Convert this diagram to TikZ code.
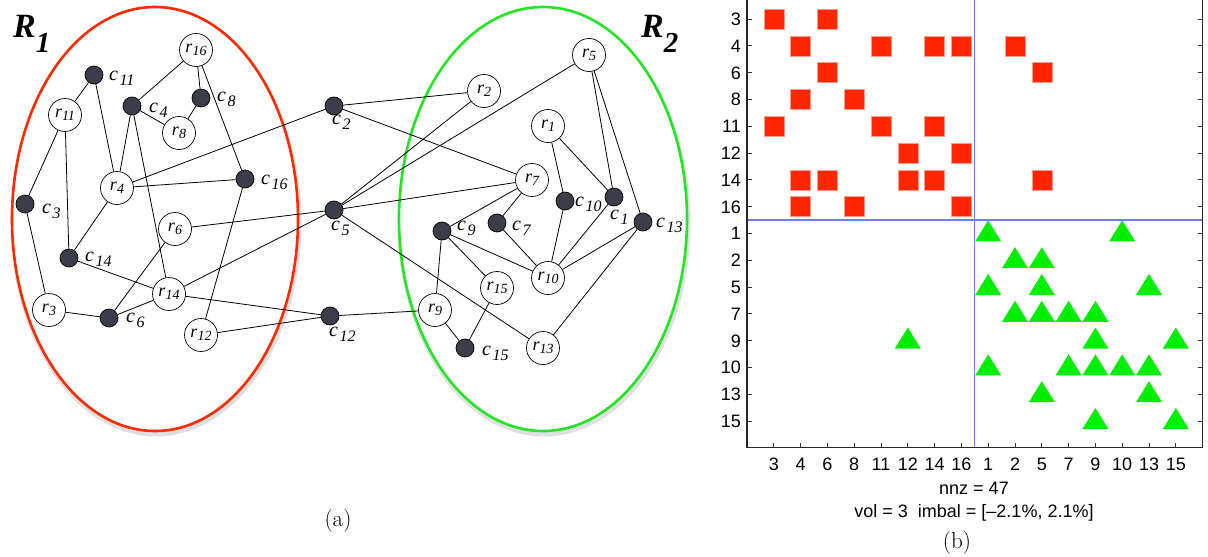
\documentclass[tikz,border=0pt]{standalone}
\usepackage{fontspec}
\newfontfamily\tm{Liberation Serif}
\newfontfamily\hv{Liberation Sans}
\definecolor{cgray}{HTML}{3B3D4A}
\definecolor{ellred}{HTML}{FF2A00}
\definecolor{ellgreen}{HTML}{22E622}
\definecolor{sqred}{HTML}{FF2600}
\definecolor{sqpink}{HTML}{FF9A8A}
\definecolor{trigreen}{HTML}{00EE00}
\definecolor{sepblue}{HTML}{6C7FF0}
\newcommand{\rl}[1]{{\tm\fontsize{18}{18}\selectfont\itshape r\raisebox{-3.5pt}{\fontsize{14}{14}\selectfont #1}}}
\newcommand{\cl}[1]{{\tm\fontsize{20}{20}\selectfont\itshape c\kern1.5pt\raisebox{-5pt}{\fontsize{16}{16}\selectfont #1}}}
\newcommand{\Rl}[1]{{\tm\bfseries\itshape\fontsize{34}{34}\selectfont R\raisebox{-15pt}{\fontsize{29}{29}\selectfont #1}}}
\pgfdeclarelayer{ell}
\pgfdeclarelayer{edges}
\pgfsetlayers{ell,edges,main}
\tikzset{
  rnode/.style={circle,draw=black,fill=white,line width=0.7pt,minimum size=33pt,inner sep=0pt},
  cnode/.style={circle,draw=black,fill=cgray,line width=0.7pt,minimum size=18pt,inner sep=0pt},
  clab/.style={anchor=base west,inner sep=0pt},
  edge/.style={line width=0.8pt,black},
  ylab/.style={anchor=base east,inner sep=0pt,font=\hv\fontsize{18}{18}\selectfont},
  xlab/.style={anchor=base,inner sep=0pt,font=\hv\fontsize{18}{18}\selectfont},
  tick/.style={line width=0.8pt,black!80},
}
\begin{document}
\begin{tikzpicture}[x=1pt,y=-1pt]
\useasboundingbox (0,0) rectangle (1208,557);
\clip (0,0) rectangle (1208,557);
% ---------------- ellipses ----------------
\begin{pgfonlayer}{ell}
\draw[black!40,opacity=0.3,line width=5pt] (156,223) ellipse [x radius=143,y radius=211];
\draw[black!40,opacity=0.3,line width=5pt] (544,223) ellipse [x radius=144,y radius=211];
\draw[ellred,line width=2.6pt,fill=white] (155,219) ellipse [x radius=143,y radius=212];
\draw[ellgreen,line width=2.6pt,fill=white] (543,219) ellipse [x radius=144,y radius=212];
\end{pgfonlayer}
\node[anchor=base west,inner sep=0pt] (R1) at (13,37) {\Rl{1}};
\node[anchor=base west,inner sep=0pt] (R2) at (641,37) {\Rl{2}};
% ---------------- nodes ----------------
\node[rnode] (r16) at (196,50) {\rl{16}};
\node[cnode] (c11) at (94,75) {};
\node[rnode] (r11) at (65,115) {\rl{11}};
\node[cnode] (c4) at (132,106) {};
\node[cnode] (c8) at (201,98) {};
\node[rnode] (r8) at (179,133) {\rl{8}};
\node[rnode] (r4) at (117,188) {\rl{4}};
\node[cnode] (c16) at (245,179) {};
\node[cnode] (c3) at (25,204) {};
\node[rnode] (r6) at (175,229) {\rl{6}};
\node[cnode] (c14) at (69,258) {};
\node[rnode] (r14) at (169,294) {\rl{14}};
\node[rnode] (r3) at (49,310) {\rl{3}};
\node[cnode] (c6) at (109,318) {};
\node[rnode] (r12) at (201,335) {\rl{12}};
\node[cnode] (c2) at (334,106) {};
\node[cnode] (c5) at (334,210) {};
\node[cnode] (c12) at (330,316) {};
\node[rnode] (r5) at (589,55) {\rl{5}};
\node[rnode] (r2) at (484,91) {\rl{2}};
\node[rnode] (r1) at (548,126) {\rl{1}};
\node[rnode] (r7) at (532,180) {\rl{7}};
\node[cnode] (c10) at (565,201) {};
\node[cnode] (c1) at (614,197) {};
\node[cnode] (c13) at (643,222) {};
\node[cnode] (c9) at (442,231) {};
\node[cnode] (c7) at (497,223) {};
\node[rnode] (r10) at (548,278) {\rl{10}};
\node[rnode] (r15) at (497,288) {\rl{15}};
\node[rnode] (r9) at (435,310) {\rl{9}};
\node[cnode] (c15) at (465,348) {};
\node[rnode] (r13) at (543,348) {\rl{13}};
% ---------------- edges ----------------
\begin{pgfonlayer}{edges}
\foreach \a/\b in {r16/c4,r16/c8,r16/c16,c8/r8,c4/r8,c11/r11,c11/r4,c4/r4,c4/r14,
  r11/c3,r11/c14,c3/r3,r4/c14,r4/c16,r4/c2,c16/r12,r6/c5,r6/c6,c14/r14,r14/c5,
  r14/c12,r12/c12,r3/c6,c6/r14,
  c2/r2,c2/r7,c5/r2,c5/r5,c5/r7,c5/r13,c12/r9,
  r1/c10,r1/c1,r5/c1,r5/c13,r7/c9,r7/c7,c9/r10,c9/r15,c9/r9,c7/r10,c10/r10,
  c1/r10,c13/r10,c13/r13,r9/c15,r15/c15}
  {\draw[edge] (\a) -- (\b);}
\end{pgfonlayer}
% ---------------- c labels ----------------
\node[clab] (l11) at (109,80) {\cl{11}};
\node[clab] (l4) at (149,112) {\cl{4}};
\node[clab] (l8) at (217,101) {\cl{8}};
\node[clab] (l16) at (261,184) {\cl{16}};
\node[clab] (l3) at (42,213) {\cl{3}};
\node[clab] (l14) at (85,261) {\cl{14}};
\node[clab] (l6) at (126,322) {\cl{6}};
\node[clab] (l2) at (332,124) {\cl{2}};
\node[clab] (l5) at (331,230) {\cl{5}};
\node[clab] (l12) at (329,336) {\cl{12}};
\node[clab] (l9) at (457,230) {\cl{9}};
\node[clab] (l7) at (512,230) {\cl{7}};
\node[clab] (l10) at (575,206) {\cl{10}};
\node[clab] (l1) at (610,219) {\cl{1}};
\node[clab] (l13) at (656,227) {\cl{13}};
\node[clab] (l15) at (482,355) {\cl{15}};
\node[inner sep=0pt,font=\fontsize{23}{23}\selectfont] (capa) at (338,521) {(a)};
% ---------------- matrix ----------------
\draw[sepblue,line width=1.2pt] (974.8,-10) -- (974.8,447.8);
\draw[sepblue,line width=1.2pt] (747,220) -- (1202.6,220);
\foreach \k in {1,...,16}{
  \draw[tick] (747,{-7.8+26.8*\k}) -- (752,{-7.8+26.8*\k});
  \draw[tick] (1202.6,{-7.8+26.8*\k}) -- (1197.6,{-7.8+26.8*\k});
  \draw[tick] ({747+26.8*\k},447.8) -- ({747+26.8*\k},442.8);
}
\draw[line width=1.3pt,black!85] (747,-10) -- (747,447.8) -- (1202.6,447.8) -- (1202.6,-10);
\foreach \k/\t in {1/3,2/4,3/6,4/8,5/11,6/12,7/14,8/16,9/1,10/2,11/5,12/7,13/9,14/10,15/13,16/15}{
  \node[ylab] at (741,{-7.8+26.8*\k+6.5}) {\t};
  \node[xlab] at ({747+26.8*\k},470) {\t};
}
\foreach \r/\c in {1/1,1/3,2/2,2/5,2/7,2/8,2/10,3/3,3/11,4/2,4/4,5/1,5/5,5/7,6/6,6/8,
  7/2,7/3,7/6,7/7,7/11,8/2,8/4,8/8}
  {\filldraw[fill=sqred,draw=sqpink,line width=0.6pt]
     ({747+26.8*\c-10},{-7.8+26.8*\r-10}) rectangle ++(20,20);}
\foreach \r/\c in {9/9,9/14,10/10,10/11,11/9,11/11,11/15,12/10,12/11,12/12,12/13,
  13/6,13/13,13/16,14/9,14/12,14/13,14/14,14/15,15/11,15/15,16/13,16/16}
  {\fill[trigreen] ({747+26.8*\c},{-7.8+26.8*\r-13}) -- ({747+26.8*\c-13},{-7.8+26.8*\r+8})
     -- ({747+26.8*\c+13},{-7.8+26.8*\r+8}) -- cycle;}
\node[anchor=base,inner sep=0pt,font=\hv\fontsize{18}{18}\selectfont] (nnz) at (974,494) {nnz = 47};
\node[anchor=base,inner sep=0pt,font=\hv\fontsize{18}{18}\selectfont] (vol) at (974,517) {vol = 3\ \ imbal = [\textendash2.1\%, 2.1\%]};
\node[inner sep=0pt,font=\fontsize{23}{23}\selectfont] (capb) at (957,543) {(b)};
\end{tikzpicture}
\end{document}
